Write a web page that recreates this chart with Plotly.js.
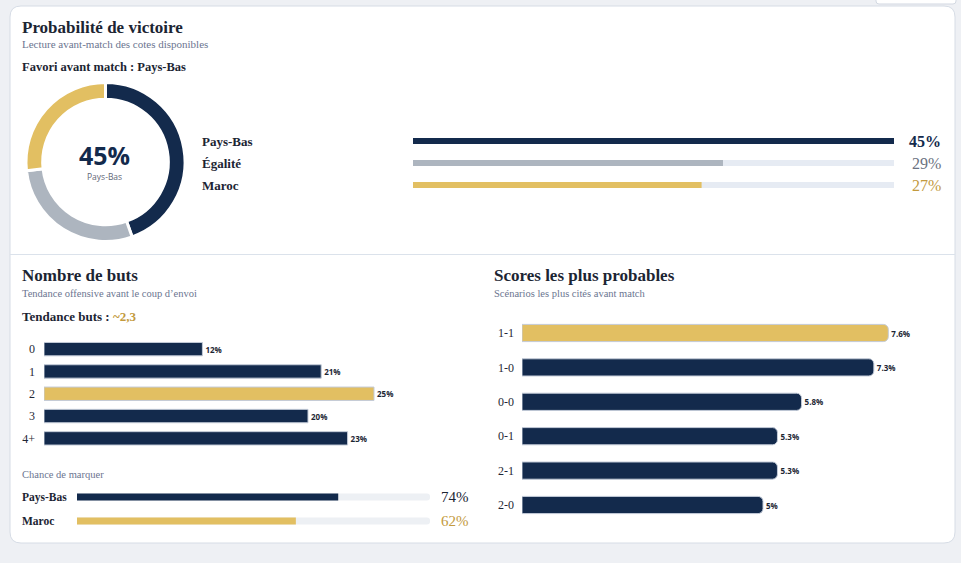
<!DOCTYPE html>
<html><head><meta charset="utf-8">
<script src="https://cdn.plot.ly/plotly-3.0.1.min.js"></script>
<style>html,body{margin:0;padding:0;background:#eef0f4;} #chart{width:961px;height:563px;}</style>
</head><body><div id="chart"></div>
<script>
const W = 961, H = 563;
const px = x => x / W;
const py = y => 1 - y / H;

// Victory probabilities
const outcomeLabels = ['Pays-Bas', 'Égalité', 'Maroc'];
const outcomeValues = [45, 29, 27];
const outcomeColors = ['#132a4c', '#adb5bf', '#e2bf62'];
const outcomeTextColors = ['#132a4c', '#6b7280', '#c39a3e'];

// Goal count distribution
const goalCats = ['0', '1', '2', '3', '4+'];
const goalValues = [12, 21, 25, 20, 23];
const goalTrend = '~2,3';

// Chance to score
const scoreTeams = ['Pays-Bas', 'Maroc'];
const scoreChance = [74, 62];
const scoreTeamColors = ['#132a4c', '#e2bf62'];
const scoreTeamTextColors = ['#1c2533', '#c39a3e'];

// Most likely scores
const scoreLines = ['1-1', '1-0', '0-0', '0-1', '2-1', '2-0'];
const scoreProbs = [7.6, 7.3, 5.8, 5.3, 5.3, 5.0];
const scoreProbLabels = ['7.6%', '7.3%', '5.8%', '5.3%', '5.3%', '5%'];

const NAVY = '#132a4c', GOLD = '#e2bf62', INK = '#1c2533', MUTED = '#6b7590';
const SERIF = 'Liberation Serif, DejaVu Serif, serif';
const SANS = 'Open Sans, Lato, sans-serif';

const favIdx = outcomeValues.indexOf(Math.max(...outcomeValues));
const maxOutcome = Math.max(...outcomeValues);
const maxGoal = Math.max(...goalValues);
const maxScore = Math.max(...scoreProbs);

function roundRect(x0, y0, x1, y1, r) {
  const X = v => px(v).toFixed(5), Y = v => py(v).toFixed(5);
  return `M${X(x0 + r)},${Y(y0)} L${X(x1 - r)},${Y(y0)} Q${X(x1)},${Y(y0)} ${X(x1)},${Y(y0 + r)} ` +
         `L${X(x1)},${Y(y1 - r)} Q${X(x1)},${Y(y1)} ${X(x1 - r)},${Y(y1)} L${X(x0 + r)},${Y(y1)} ` +
         `Q${X(x0)},${Y(y1)} ${X(x0)},${Y(y1 - r)} L${X(x0)},${Y(y0 + r)} Q${X(x0)},${Y(y0)} ${X(x0 + r)},${Y(y0)} Z`;
}

const hidden = {showgrid: false, zeroline: false, showticklabels: false, showline: false, ticks: '', fixedrange: true};

const traces = [
  // donut
  {
    type: 'pie', labels: outcomeLabels, values: outcomeValues, hole: 0.79, sort: false,
    direction: 'clockwise', rotation: 0, textinfo: 'none', hoverinfo: 'none', showlegend: false,
    marker: {colors: outcomeColors, line: {color: '#ffffff', width: 3}},
    domain: {x: [px(26), px(185)], y: [py(241.5), py(82.5)]}
  },
  // outcome tracks + bars
  {
    type: 'bar', orientation: 'h', y: outcomeLabels, x: outcomeValues.map(() => maxOutcome),
    marker: {color: '#e6ebf3'}, width: 0.28, xaxis: 'x', yaxis: 'y', hoverinfo: 'none', showlegend: false
  },
  {
    type: 'bar', orientation: 'h', y: outcomeLabels, x: outcomeValues,
    marker: {color: outcomeColors}, width: 0.28, xaxis: 'x', yaxis: 'y', hoverinfo: 'none', showlegend: false
  },
  // goals distribution
  {
    type: 'bar', orientation: 'h', y: goalCats, x: goalValues,
    marker: {color: goalValues.map(v => v === maxGoal ? GOLD : NAVY), line: {color: '#c3cbd8', width: 1}},
    width: 0.6, xaxis: 'x2', yaxis: 'y2', hoverinfo: 'none', showlegend: false,
    text: goalValues.map(v => '<b>' + v + '%</b>'), textposition: 'outside', cliponaxis: false, constraintext: 'none',
    textfont: {family: SANS, size: 8, color: INK}
  },
  // chance to score
  {
    type: 'bar', orientation: 'h', y: scoreTeams, x: scoreTeams.map(() => 100),
    marker: {color: '#edf0f4', cornerradius: 4}, width: 0.3, xaxis: 'x3', yaxis: 'y3', hoverinfo: 'none', showlegend: false
  },
  {
    type: 'bar', orientation: 'h', y: scoreTeams, x: scoreChance,
    marker: {color: scoreTeamColors, cornerradius: 4}, width: 0.3, xaxis: 'x3', yaxis: 'y3', hoverinfo: 'none', showlegend: false
  },
  // most likely scores
  {
    type: 'bar', orientation: 'h', y: scoreLines, x: scoreProbs,
    marker: {color: scoreProbs.map(v => v === maxScore ? GOLD : NAVY), line: {color: '#c3cbd8', width: 1}, cornerradius: 5},
    width: 0.5, xaxis: 'x4', yaxis: 'y4', hoverinfo: 'none', showlegend: false,
    text: scoreProbLabels.map(s => '<b>' + s + '</b>'), textposition: 'outside', cliponaxis: false, constraintext: 'none',
    textfont: {family: SANS, size: 8, color: INK}
  }
];

const annotations = [];
const base = {showarrow: false, borderpad: 0, borderwidth: 0, yanchor: 'middle'};
function txt(x, y, text, opts) {
  annotations.push(Object.assign({}, base, {
    xref: 'paper', yref: 'paper', x: px(x), y: py(y), text: text,
    xanchor: 'left', font: {family: SERIF, size: 12, color: INK}
  }, opts || {}));
}

// section headers
txt(22, 27, '<b>Probabilité de victoire</b>', {font: {family: SERIF, size: 17, color: INK}});
txt(22, 44, 'Lecture avant-match des cotes disponibles', {font: {family: SERIF, size: 11, color: MUTED}});
txt(22, 67, '<b>Favori avant match : ' + outcomeLabels[favIdx] + '</b>', {font: {family: SERIF, size: 12.5, color: INK}});

txt(104, 155, '<b>' + outcomeValues[favIdx] + '%</b>', {xanchor: 'center', font: {family: SANS, size: 25, color: NAVY}});
txt(104, 176.5, outcomeLabels[favIdx], {xanchor: 'center', font: {family: SANS, size: 8.5, color: '#5f6878'}});

outcomeLabels.forEach((lab, i) => {
  annotations.push(Object.assign({}, base, {xref: 'paper', yref: 'y', x: px(202), y: lab, text: '<b>' + lab + '</b>',
    xanchor: 'left', font: {family: SERIF, size: 13, color: INK}}));
  annotations.push(Object.assign({}, base, {xref: 'paper', yref: 'y', x: px(941), y: lab,
    text: i === favIdx ? '<b>' + outcomeValues[i] + '%</b>' : outcomeValues[i] + '%',
    xanchor: 'right', font: {family: SERIF, size: 16, color: outcomeTextColors[i]}}));
});

txt(22, 275, '<b>Nombre de buts</b>', {font: {family: SERIF, size: 17, color: INK}});
txt(22, 293, 'Tendance offensive avant le coup d\u2019envoi', {font: {family: SERIF, size: 10.5, color: MUTED}});
txt(22, 316, '<b>Tendance buts : </b><span style="color:#c39a3e"><b>' + goalTrend + '</b></span>', {font: {family: SERIF, size: 13, color: INK}});

txt(22, 474, 'Chance de marquer', {font: {family: SERIF, size: 10.5, color: MUTED}});
scoreTeams.forEach((team, i) => {
  annotations.push(Object.assign({}, base, {xref: 'paper', yref: 'y3', x: px(22), y: team, text: '<b>' + team + '</b>',
    xanchor: 'left', font: {family: SERIF, size: 11.5, color: INK}}));
  annotations.push(Object.assign({}, base, {xref: 'paper', yref: 'y3', x: px(469), y: team, text: scoreChance[i] + '%',
    xanchor: 'right', font: {family: SERIF, size: 15, color: scoreTeamTextColors[i]}}));
});

txt(494, 275, '<b>Scores les plus probables</b>', {font: {family: SERIF, size: 17, color: INK}});
txt(494, 293, 'Scénarios les plus cités avant match', {font: {family: SERIF, size: 10.5, color: MUTED}});

const shapes = [
  // small panel peeking at the top right
  {type: 'path', xref: 'paper', yref: 'paper', path: roundRect(876, -8, 956, 4, 3), fillcolor: '#ffffff', line: {color: '#d3d9e2', width: 1}, layer: 'below'},
  // main card
  {type: 'path', xref: 'paper', yref: 'paper', path: roundRect(10, 6, 955, 543, 11), fillcolor: '#ffffff', line: {color: '#d6dce5', width: 1}, layer: 'below'},
  // divider between sections
  {type: 'line', xref: 'paper', yref: 'paper', x0: px(10), x1: px(955), y0: py(254.5), y1: py(254.5), line: {color: '#dbe2eb', width: 1}, layer: 'below'}
];

const tickFont = {family: SERIF, size: 12, color: '#1f2735'};

const layout = {
  width: W, height: H, margin: {l: 0, r: 0, t: 0, b: 0},
  paper_bgcolor: '#eef0f4', plot_bgcolor: 'rgba(0,0,0,0)',
  barmode: 'overlay', showlegend: false,
  xaxis: Object.assign({}, hidden, {domain: [px(413), px(894)], range: [0, maxOutcome]}),
  yaxis: Object.assign({}, hidden, {type: 'category', domain: [py(196), py(130)], autorange: 'reversed', anchor: 'x'}),
  xaxis2: Object.assign({}, hidden, {domain: [px(44), px(44 + 13.2 * 30)], range: [0, 30], anchor: 'y2'}),
  yaxis2: Object.assign({}, hidden, {type: 'category', domain: [py(449.5), py(338)], autorange: 'reversed', anchor: 'x2',
    showticklabels: true, ticklabelstandoff: 8, tickfont: tickFont}),
  xaxis3: Object.assign({}, hidden, {domain: [px(77), px(430)], range: [0, 100], anchor: 'y3'}),
  yaxis3: Object.assign({}, hidden, {type: 'category', domain: [py(533), py(485)], autorange: 'reversed', anchor: 'x3'}),
  xaxis4: Object.assign({}, hidden, {domain: [px(522), px(522 + 48.2 * 8.5)], range: [0, 8.5], anchor: 'y4'}),
  yaxis4: Object.assign({}, hidden, {type: 'category', domain: [py(522.2), py(315.8)], autorange: 'reversed', anchor: 'x4',
    showticklabels: true, ticklabelstandoff: 7, tickfont: tickFont}),
  annotations: annotations,
  shapes: shapes
};

Plotly.newPlot('chart', traces, layout, {displayModeBar: false, staticPlot: true});
</script>
</body></html>
